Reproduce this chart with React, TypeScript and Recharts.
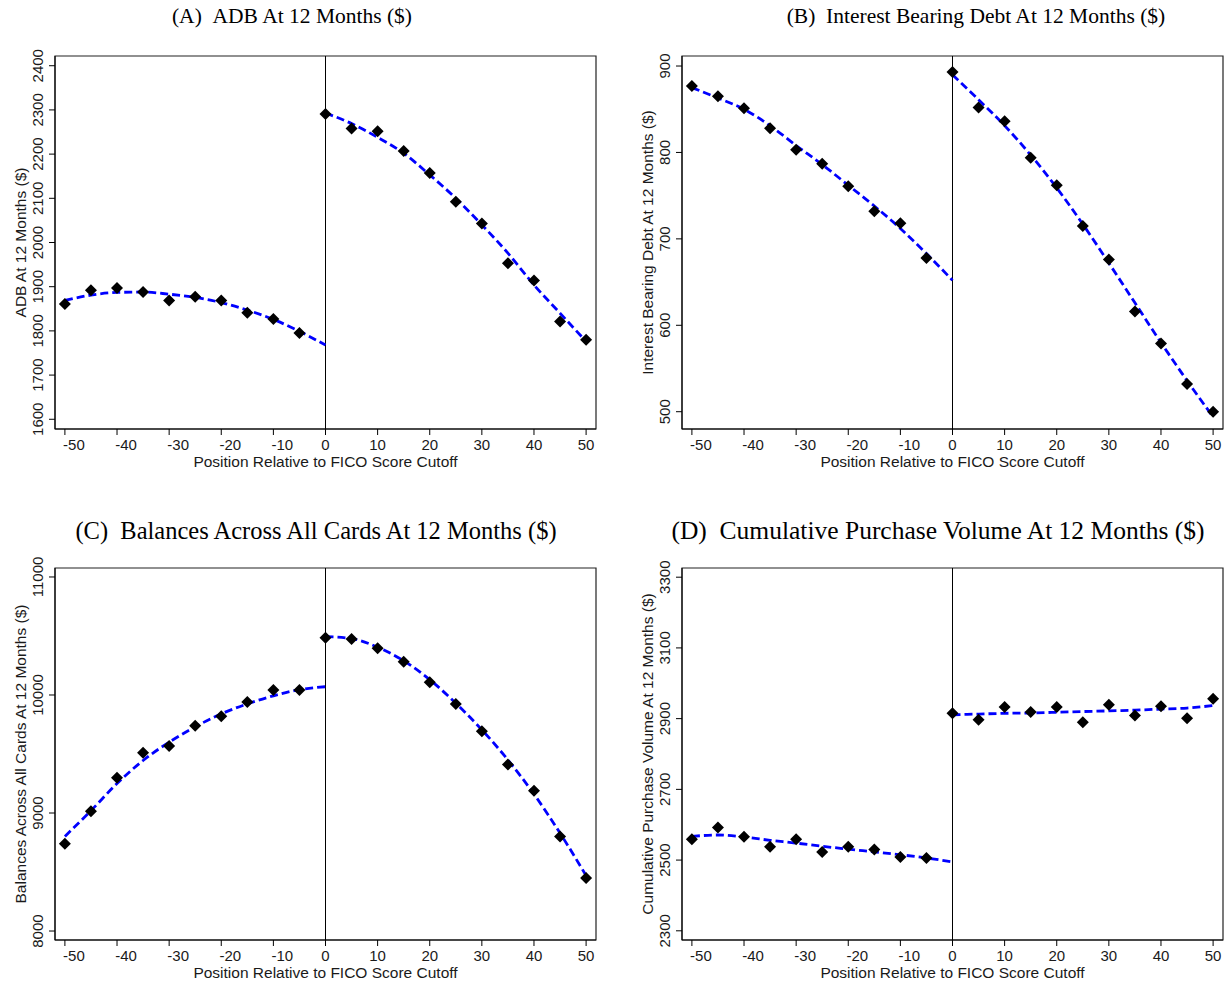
import React from 'react';
import { ComposedChart, Scatter, Line, XAxis, YAxis, ReferenceLine, ReferenceArea } from 'recharts';

// ---- categories (position relative to cutoff) ----
const leftPos = [-50, -45, -40, -35, -30, -25, -20, -15, -10, -5];
const leftFitPos = [-50, -45, -40, -35, -30, -25, -20, -15, -10, -5, 0];
const rightPos = [0, 5, 10, 15, 20, 25, 30, 35, 40, 45, 50];
const xTicks = [-50, -40, -30, -20, -10, 0, 10, 20, 30, 40, 50];

// ---- (A) ADB ----
const adbLeft = [1861, 1892, 1897, 1888, 1869, 1877, 1869, 1841, 1827, 1795];
const adbRight = [2291, 2258, 2252, 2207, 2157, 2092, 2043, 1953, 1914, 1821, 1780];
const adbFitLeft = [1869, 1881, 1887, 1888, 1883, 1876, 1864, 1847, 1826, 1799, 1768];
const adbFitRight = [2293, 2269, 2238, 2202, 2153, 2100, 2040, 1976, 1904, 1840, 1776];
const adbTicks = [1600, 1700, 1800, 1900, 2000, 2100, 2200, 2300, 2400];

// ---- (B) Interest bearing debt ----
const ibdLeft = [877, 865, 851, 828, 803, 787, 761, 732, 718, 678];
const ibdRight = [893, 852, 836, 794, 762, 715, 676, 616, 579, 532, 500];
const ibdFitLeft = [875, 863, 850, 831, 808, 786, 762, 738, 712, 683, 652];
const ibdFitRight = [890, 861, 831, 797, 759, 717, 672, 626, 580, 536, 494];
const ibdTicks = [500, 600, 700, 800, 900];

// ---- (C) Balances across all cards ----
const balLeft = [8740, 9014, 9299, 9511, 9568, 9740, 9819, 9941, 10042, 10042];
const balRight = [10486, 10475, 10395, 10282, 10107, 9924, 9692, 9410, 9189, 8802, 8449];
const balFitLeft = [8802, 9020, 9250, 9445, 9600, 9730, 9840, 9925, 9993, 10045, 10070];
const balFitRight = [10495, 10478, 10405, 10290, 10130, 9930, 9705, 9450, 9160, 8830, 8470];
const balTicks = [8000, 9000, 10000, 11000];

// ---- (D) Cumulative purchase volume ----
const cpvLeft = [2559, 2592, 2566, 2538, 2559, 2523, 2538, 2530, 2509, 2506];
const cpvRight = [2915, 2897, 2933, 2919, 2933, 2890, 2939, 2909, 2935, 2901, 2956];
const cpvFitLeft = [2567, 2571, 2565, 2556, 2548, 2539, 2531, 2523, 2515, 2506, 2495];
const cpvFitRight = [2911, 2913, 2915, 2916, 2918, 2920, 2922, 2924, 2927, 2930, 2937];
const cpvTicks = [2300, 2500, 2700, 2900, 3100, 3300];

const titles = [
  '(A)\u00a0\u00a0ADB At 12 Months ($)',
  '(B)\u00a0\u00a0Interest Bearing Debt At 12 Months ($)',
  '(C)\u00a0\u00a0Balances Across All Cards At 12 Months ($)',
  '(D)\u00a0\u00a0Cumulative Purchase Volume At 12 Months ($)',
];
const yLabels = [
  'ADB At 12 Months ($)',
  'Interest Bearing Debt At 12 Months ($)',
  'Balances Across All Cards At 12 Months ($)',
  'Cumulative Purchase Volume At 12 Months ($)',
];
const xLabel = 'Position Relative to FICO Score Cutoff';

const zip = (xs: number[], ys: number[]) => xs.map((x, i) => ({ x, y: ys[i] }));

const SANS = 'Liberation Sans, Arial, sans-serif';
const SERIF = 'Liberation Serif, Times New Roman, serif';
const INK = '#1a1a1a';

const Diamond = (p: any) => {
  const { cx, cy } = p;
  if (cx == null || cy == null) return null;
  const r = 6;
  return <path d={`M${cx},${cy - r}L${cx + r},${cy}L${cx},${cy + r}L${cx - r},${cy}Z`} fill="#000" />;
};

const XTick = (p: any) => {
  const { x, y, payload } = p;
  const v = payload.value;
  return (
    <text x={v < 0 ? x + 9 : x} y={y + 13} textAnchor="middle" fontSize={15} fontFamily={SANS} fill={INK}>
      {v}
    </text>
  );
};

const YTick = (p: any) => {
  const { x, y, payload } = p;
  return (
    <text x={x} y={y} transform={`rotate(-90 ${x} ${y})`} textAnchor="middle" fontSize={15} fontFamily={SANS} fill={INK}>
      {payload.value}
    </text>
  );
};

type PanelProps = {
  left: number; top: number; width: number; height: number;
  yAxisWidth: number; xAxisHeight: number; marginTop: number; marginRight: number;
  domain: [number, number]; ticks: number[]; yLabel: string;
  ptsLeft: number[]; ptsRight: number[]; fitLeft: number[]; fitRight: number[];
};

const Panel = (pp: PanelProps) => {
  const pts = [...zip(leftPos, pp.ptsLeft), ...zip(rightPos, pp.ptsRight)];
  const fl = zip(leftFitPos, pp.fitLeft);
  const fr = zip(rightPos, pp.fitRight);
  const xd: [number, number] = [-51.9, 51.9];
  return (
    <div style={{ position: 'absolute', left: pp.left, top: pp.top }}>
      <ComposedChart
        width={pp.width}
        height={pp.height}
        margin={{ top: pp.marginTop, right: pp.marginRight, bottom: 0, left: 0 }}
      >
        <XAxis
          type="number"
          dataKey="x"
          domain={xd}
          ticks={xTicks}
          allowDataOverflow
          height={pp.xAxisHeight}
          tickSize={6}
          tickMargin={2}
          stroke="#000"
          tick={<XTick />}
          label={{
            value: xLabel,
            content: (lp: any) => {
              const vb = lp.viewBox || {};
              return (
                <text x={vb.x + vb.width / 2} y={vb.y + 38} textAnchor="middle" fontSize={15.5} fontFamily={SANS} fill={INK}>
                  {xLabel}
                </text>
              );
            },
          }}
        />
        <YAxis
          type="number"
          domain={pp.domain}
          ticks={pp.ticks}
          allowDataOverflow
          width={pp.yAxisWidth}
          tickSize={6}
          tickMargin={6}
          stroke="#000"
          tick={<YTick />}
          label={{
            value: pp.yLabel,
            content: (lp: any) => {
              const vb = lp.viewBox || {};
              const x = vb.x + vb.width - 29;
              const y = vb.y + vb.height / 2;
              return (
                <text x={x} y={y} transform={`rotate(-90 ${x} ${y})`} textAnchor="middle" fontSize={15.5} fontFamily={SANS} fill={INK}>
                  {pp.yLabel}
                </text>
              );
            },
          }}
        />
        <ReferenceArea x1={xd[0]} x2={xd[1]} y1={pp.domain[0]} y2={pp.domain[1]} fill="none" stroke="#222" strokeWidth={1.2} />
        <ReferenceLine x={0} stroke="#000" strokeWidth={1} />
        <Scatter data={pts} dataKey="y" shape={Diamond} isAnimationActive={false} />
        <Line data={fl} dataKey="y" type="monotone" stroke="#0000ff" strokeWidth={2.8} strokeDasharray="8 4" dot={false} activeDot={false} isAnimationActive={false} />
        <Line data={fr} dataKey="y" type="monotone" stroke="#0000ff" strokeWidth={2.8} strokeDasharray="8 4" dot={false} activeDot={false} isAnimationActive={false} />
      </ComposedChart>
    </div>
  );
};

export default function App() {
  return (
    <div style={{ position: 'relative', width: 1228, height: 986, background: '#fff', overflow: 'hidden' }}>
      <style>{'body{margin:0;background:#fff}'}</style>
      <svg width={1228} height={986} style={{ position: 'absolute', left: 0, top: 0 }}>
        <text x={292} y={23} textAnchor="middle" fontSize={21.5} fontFamily={SERIF} fill="#000">{titles[0]}</text>
        <text x={976} y={23} textAnchor="middle" fontSize={21.5} fontFamily={SERIF} fill="#000">{titles[1]}</text>
        <text x={316} y={539} textAnchor="middle" fontSize={24.5} fontFamily={SERIF} fill="#000">{titles[2]}</text>
        <text x={938} y={539} textAnchor="middle" fontSize={25.5} fontFamily={SERIF} fill="#000">{titles[3]}</text>
      </svg>
      <Panel left={0} top={0} width={614} height={493} yAxisWidth={55} xAxisHeight={64} marginTop={56} marginRight={18}
        domain={[1578, 2422]} ticks={adbTicks} yLabel={yLabels[0]}
        ptsLeft={adbLeft} ptsRight={adbRight} fitLeft={adbFitLeft} fitRight={adbFitRight} />
      <Panel left={614} top={0} width={614} height={493} yAxisWidth={68} xAxisHeight={64} marginTop={56} marginRight={5}
        domain={[480, 911.6]} ticks={ibdTicks} yLabel={yLabels[1]}
        ptsLeft={ibdLeft} ptsRight={ibdRight} fitLeft={ibdFitLeft} fitRight={ibdFitRight} />
      <Panel left={0} top={512} width={614} height={474} yAxisWidth={55} xAxisHeight={46} marginTop={56} marginRight={18}
        domain={[7924, 11076]} ticks={balTicks} yLabel={yLabels[2]}
        ptsLeft={balLeft} ptsRight={balRight} fitLeft={balFitLeft} fitRight={balFitRight} />
      <Panel left={614} top={512} width={614} height={474} yAxisWidth={68} xAxisHeight={46} marginTop={56} marginRight={5}
        domain={[2274, 3326]} ticks={cpvTicks} yLabel={yLabels[3]}
        ptsLeft={cpvLeft} ptsRight={cpvRight} fitLeft={cpvFitLeft} fitRight={cpvFitRight} />
    </div>
  );
}
